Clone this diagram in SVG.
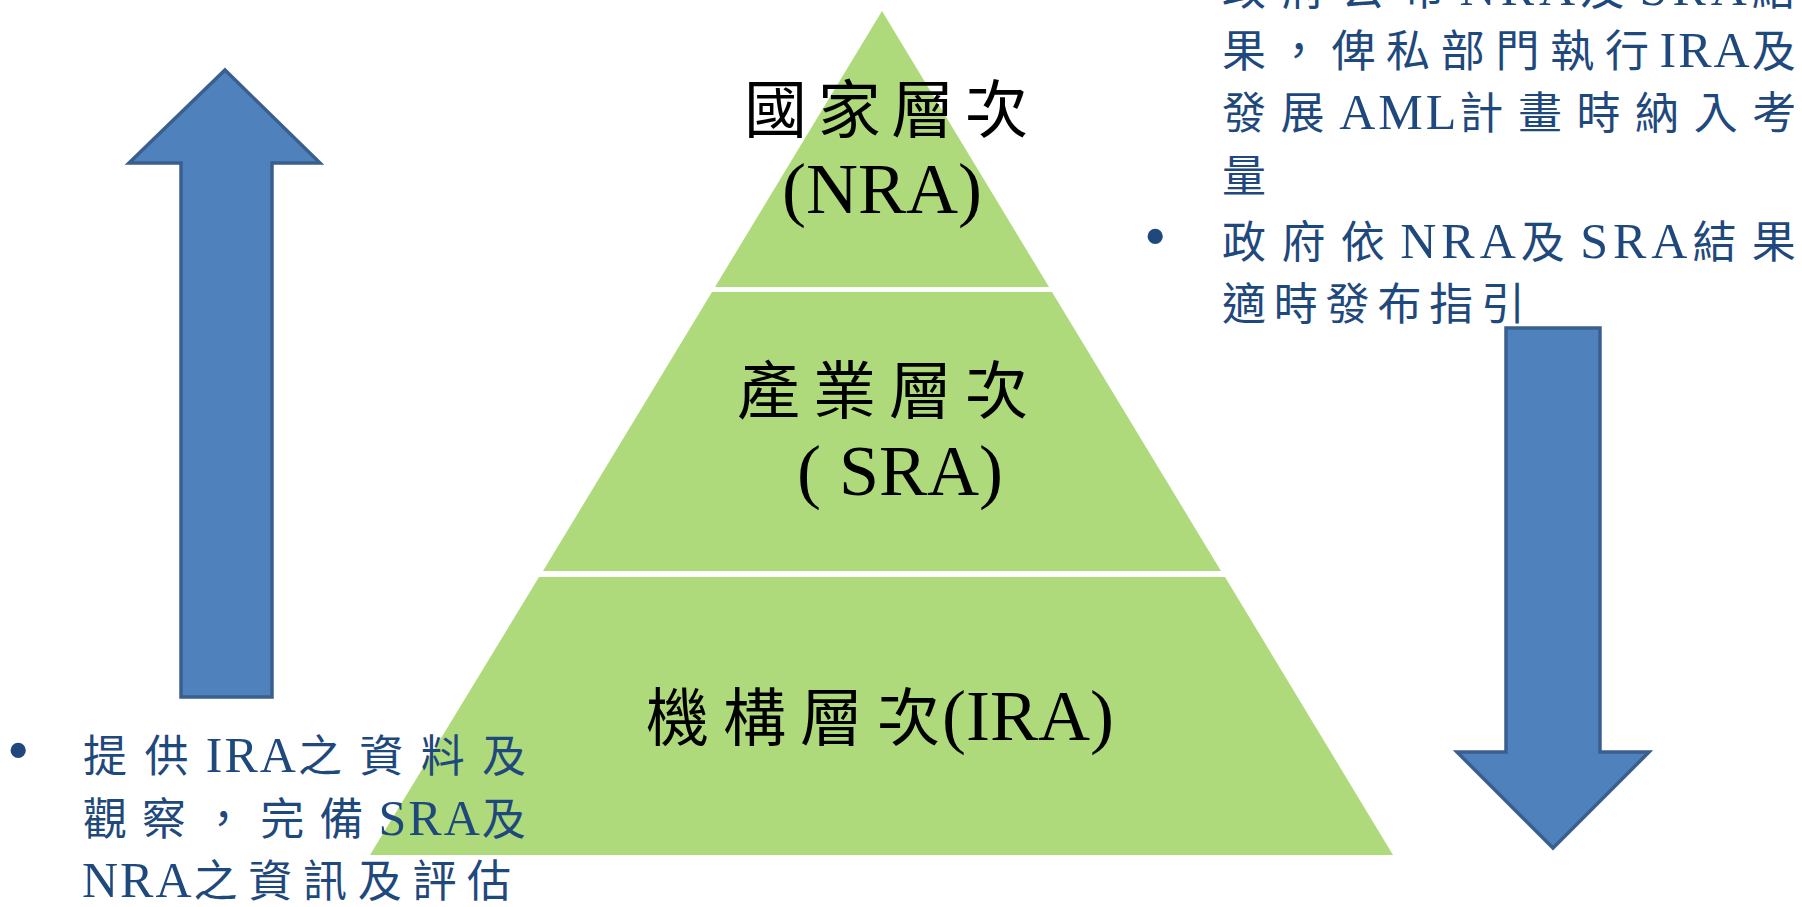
<svg xmlns="http://www.w3.org/2000/svg" width="1802" height="907" viewBox="0 0 1802 907">
<style>
.band{fill:#AEDA7C;}
.arrow{fill:#4F81BD;stroke:#3A5F8F;stroke-width:3.5;stroke-linejoin:miter;}
.lbl{font-family:"Liberation Serif","Noto Sans CJK TC",serif;fill:#000;}
.cjk{font-size:63px;}
.lat{font-size:72px;}
.note{font-family:"Liberation Serif","Noto Sans CJK TC",serif;font-size:44px;fill:#1F497D;}
.bullet{font-family:"Liberation Serif",serif;font-size:64px;fill:#1F497D;}
.l{font-size:50px;letter-spacing:2px;}
.l3{font-size:50px;letter-spacing:3px;}
.l5{font-size:50px;letter-spacing:5px;}
</style>
<rect width="1802" height="907" fill="#fff"/>
<g id="pyramid-top">
<polygon class="band" points="882,11 1049,287 715,287"/>
<text class="lbl cjk" x="744" y="132" textLength="284" lengthAdjust="spacing">國家層次</text>
<text class="lbl lat" x="882" y="213" text-anchor="middle">(NRA)</text>
</g>
<g id="pyramid-middle">
<polygon class="band" points="712,292 1052,292 1221,571 543,571"/>
<text class="lbl cjk" x="737" y="413" textLength="291" lengthAdjust="spacing">產業層次</text>
<text class="lbl lat" x="797" y="495">( SRA)</text>
</g>
<g id="pyramid-bottom">
<polygon class="band" points="539,577 1225,577 1393,855 370,855"/>
<text class="lbl" y="740"><tspan class="cjk" x="646" textLength="294" lengthAdjust="spacing">機構層次</tspan><tspan class="lat" x="942">(IRA)</tspan></text>
</g>
<g id="arrow-up">
<polygon class="arrow" points="225,70 320,163 272,163 272,697 181,697 181,163 129,163"/>
</g>
<g id="arrow-down">
<polygon class="arrow" points="1506,328 1600,328 1600,752 1649,752 1553,848 1457,752 1506,752"/>
</g>
<g id="note-left">
<text class="bullet" x="7" y="772">•</text>
<text class="note" x="83" y="772"><tspan letter-spacing="17.4">提供</tspan><tspan class="l">IRA</tspan><tspan letter-spacing="17.4">之資料及</tspan></text>
<text class="note" x="83" y="835"><tspan letter-spacing="15.1">觀察，完備</tspan><tspan class="l">SRA</tspan><tspan>及</tspan></text>
<text class="note" x="82" y="897"><tspan class="l">NRA</tspan><tspan letter-spacing="10.7">之資訊及評估</tspan></text>
</g>
<g id="note-right">
<text class="note" x="1222" y="5"><tspan letter-spacing="15.4">政府公布</tspan><tspan class="l5">NRA</tspan><tspan letter-spacing="15.4">及</tspan><tspan class="l5">SRA</tspan><tspan>結</tspan></text>
<text class="note" x="1222" y="67"><tspan letter-spacing="10.7">果，俾私部門執行</tspan><tspan class="l">IRA</tspan><tspan>及</tspan></text>
<text class="note" x="1222" y="129"><tspan letter-spacing="14.6">發展</tspan><tspan class="l3">AML</tspan><tspan letter-spacing="14.6">計畫時納入考</tspan></text>
<text class="note" x="1222" y="192">量</text>
<text class="bullet" x="1144" y="258">•</text>
<text class="note" x="1222" y="258"><tspan letter-spacing="15.4">政府依</tspan><tspan class="l5">NRA</tspan><tspan letter-spacing="15.4">及</tspan><tspan class="l5">SRA</tspan><tspan letter-spacing="15.4">結果</tspan></text>
<text class="note" x="1222" y="320" letter-spacing="7.8">適時發布指引</text>
</g>
<g id="connectors"></g>
</svg>
